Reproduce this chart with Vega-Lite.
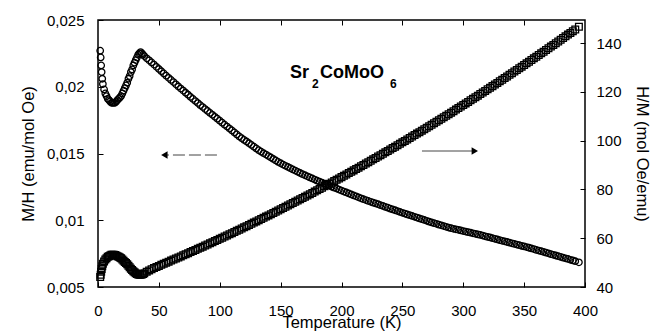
{
  "$schema": "https://vega.github.io/schema/vega-lite/v6.json",
  "width": 487,
  "height": 267,
  "autosize": "none",
  "padding": {"left": 98, "top": 20, "right": 67, "bottom": 44},
  "background": "white",
  "config": {
    "font": "Liberation Sans",
    "view": {"stroke": "black", "strokeWidth": 1.5},
    "axis": {
      "labelFont": "Liberation Sans", "titleFont": "Liberation Sans",
      "labelFontSize": 15, "titleFontSize": 16.5, "titleFontWeight": "normal",
      "labelColor": "black", "titleColor": "black", "tickColor": "black",
      "domain": false, "grid": false, "tickSize": 5, "tickWidth": 1, "offset": -5
    }
  },
  "datasets": {
    "mh": [
      {"T": 1.8, "v": 0.0227}, {"T": 2.2, "v": 0.0222}, {"T": 2.6, "v": 0.0216}, {"T": 3.0, "v": 0.0211},
      {"T": 3.5, "v": 0.0206}, {"T": 4, "v": 0.0202}, {"T": 5, "v": 0.0198}, {"T": 6, "v": 0.0195},
      {"T": 7, "v": 0.0193}, {"T": 8, "v": 0.0191}, {"T": 9, "v": 0.0190}, {"T": 10, "v": 0.0189},
      {"T": 11, "v": 0.0188}, {"T": 12, "v": 0.0188}, {"T": 13, "v": 0.0188}, {"T": 14, "v": 0.0188},
      {"T": 15, "v": 0.0189}, {"T": 16, "v": 0.0190}, {"T": 17, "v": 0.0191}, {"T": 18, "v": 0.0192},
      {"T": 19, "v": 0.0193}, {"T": 20, "v": 0.0195}, {"T": 21, "v": 0.0197}, {"T": 22, "v": 0.0199},
      {"T": 23, "v": 0.0201}, {"T": 24, "v": 0.0203}, {"T": 25, "v": 0.0206}, {"T": 26, "v": 0.0208},
      {"T": 27, "v": 0.0211}, {"T": 28, "v": 0.0213}, {"T": 29, "v": 0.0216}, {"T": 30, "v": 0.0218},
      {"T": 31, "v": 0.0220}, {"T": 32, "v": 0.0222}, {"T": 33, "v": 0.0224}, {"T": 34, "v": 0.0225},
      {"T": 35, "v": 0.0226}, {"T": 36, "v": 0.0225}, {"T": 37, "v": 0.0224}, {"T": 38, "v": 0.0223},
      {"T": 40, "v": 0.02213}, {"T": 44, "v": 0.02182}, {"T": 48, "v": 0.02149}, {"T": 52, "v": 0.02116},
      {"T": 56, "v": 0.02083}, {"T": 60, "v": 0.02051}, {"T": 64, "v": 0.02018}, {"T": 68, "v": 0.01986},
      {"T": 72, "v": 0.01955}, {"T": 76, "v": 0.01924}, {"T": 80, "v": 0.01893}, {"T": 84, "v": 0.01862},
      {"T": 88, "v": 0.01833}, {"T": 92, "v": 0.01804}, {"T": 96, "v": 0.01775}, {"T": 100, "v": 0.01746},
      {"T": 104, "v": 0.01716}, {"T": 108, "v": 0.01687}, {"T": 112, "v": 0.01658}, {"T": 116, "v": 0.01628},
      {"T": 120, "v": 0.01602}, {"T": 124, "v": 0.01577}, {"T": 128, "v": 0.01551}, {"T": 132, "v": 0.01525},
      {"T": 136, "v": 0.01502}, {"T": 140, "v": 0.01481}, {"T": 144, "v": 0.01459}, {"T": 148, "v": 0.01437},
      {"T": 152, "v": 0.01417}, {"T": 156, "v": 0.01399}, {"T": 160, "v": 0.01381}, {"T": 164, "v": 0.01363},
      {"T": 168, "v": 0.01345}, {"T": 172, "v": 0.01329}, {"T": 176, "v": 0.01313}, {"T": 180, "v": 0.01296},
      {"T": 184, "v": 0.01281}, {"T": 188, "v": 0.01266}, {"T": 192, "v": 0.01251}, {"T": 196, "v": 0.01237},
      {"T": 200, "v": 0.01222}, {"T": 204, "v": 0.01208}, {"T": 208, "v": 0.01193}, {"T": 212, "v": 0.01179},
      {"T": 216, "v": 0.01164}, {"T": 220, "v": 0.01151}, {"T": 224, "v": 0.01138}, {"T": 228, "v": 0.01126},
      {"T": 232, "v": 0.01113}, {"T": 236, "v": 0.01100}, {"T": 240, "v": 0.01087}, {"T": 244, "v": 0.01075},
      {"T": 248, "v": 0.01062}, {"T": 252, "v": 0.01050}, {"T": 256, "v": 0.01038}, {"T": 260, "v": 0.01026},
      {"T": 264, "v": 0.01014}, {"T": 268, "v": 0.01002}, {"T": 272, "v": 0.00989}, {"T": 276, "v": 0.00978},
      {"T": 280, "v": 0.00967}, {"T": 284, "v": 0.00956}, {"T": 288, "v": 0.00945}, {"T": 292, "v": 0.00936},
      {"T": 296, "v": 0.00928}, {"T": 300, "v": 0.00919}, {"T": 304, "v": 0.00911}, {"T": 308, "v": 0.00902},
      {"T": 312, "v": 0.00894}, {"T": 316, "v": 0.00885}, {"T": 320, "v": 0.00875}, {"T": 324, "v": 0.00866},
      {"T": 328, "v": 0.00856}, {"T": 332, "v": 0.00846}, {"T": 336, "v": 0.00837}, {"T": 340, "v": 0.00827},
      {"T": 344, "v": 0.00818}, {"T": 348, "v": 0.00808}, {"T": 352, "v": 0.00799}, {"T": 356, "v": 0.00789},
      {"T": 360, "v": 0.00778}, {"T": 364, "v": 0.00768}, {"T": 368, "v": 0.00757}, {"T": 372, "v": 0.00746},
      {"T": 376, "v": 0.00736}, {"T": 380, "v": 0.00725}, {"T": 384, "v": 0.00715}, {"T": 388, "v": 0.00704},
      {"T": 392, "v": 0.00693}, {"T": 395, "v": 0.00685},
      {"T": 42, "v": 0.02198}, {"T": 46, "v": 0.02166}, {"T": 50, "v": 0.02133}, {"T": 54, "v": 0.02100},
      {"T": 58, "v": 0.02067}, {"T": 62, "v": 0.02035}, {"T": 66, "v": 0.02002}, {"T": 70, "v": 0.01971},
      {"T": 74, "v": 0.01940}, {"T": 78, "v": 0.01909}, {"T": 82, "v": 0.01878}, {"T": 86, "v": 0.01848},
      {"T": 90, "v": 0.01819}, {"T": 94, "v": 0.01790}, {"T": 98, "v": 0.01761}, {"T": 102, "v": 0.01731},
      {"T": 106, "v": 0.01702}, {"T": 110, "v": 0.01673}, {"T": 114, "v": 0.01643}, {"T": 118, "v": 0.01615},
      {"T": 122, "v": 0.01590}, {"T": 126, "v": 0.01564}, {"T": 130, "v": 0.01538}, {"T": 134, "v": 0.01514},
      {"T": 138, "v": 0.01492}, {"T": 142, "v": 0.01470}, {"T": 146, "v": 0.01448}, {"T": 150, "v": 0.01427},
      {"T": 154, "v": 0.01408}, {"T": 158, "v": 0.01390}, {"T": 162, "v": 0.01372}, {"T": 166, "v": 0.01354},
      {"T": 170, "v": 0.01337}, {"T": 174, "v": 0.01321}, {"T": 178, "v": 0.01305}, {"T": 182, "v": 0.01289},
      {"T": 186, "v": 0.01274}, {"T": 190, "v": 0.01259}, {"T": 194, "v": 0.01244}, {"T": 198, "v": 0.01230},
      {"T": 202, "v": 0.01215}, {"T": 206, "v": 0.01201}, {"T": 210, "v": 0.01186}, {"T": 214, "v": 0.01172},
      {"T": 218, "v": 0.01158}, {"T": 222, "v": 0.01145}, {"T": 226, "v": 0.01132}, {"T": 230, "v": 0.01120},
      {"T": 234, "v": 0.01107}, {"T": 238, "v": 0.01094}, {"T": 242, "v": 0.01081}, {"T": 246, "v": 0.01069},
      {"T": 250, "v": 0.01056}, {"T": 254, "v": 0.01044}, {"T": 258, "v": 0.01032}, {"T": 262, "v": 0.01020},
      {"T": 266, "v": 0.01008}, {"T": 270, "v": 0.00996}, {"T": 274, "v": 0.00984}, {"T": 278, "v": 0.00973},
      {"T": 282, "v": 0.00962}, {"T": 286, "v": 0.00951}, {"T": 290, "v": 0.00941}, {"T": 294, "v": 0.00932},
      {"T": 298, "v": 0.00924}, {"T": 302, "v": 0.00915}, {"T": 306, "v": 0.00907}, {"T": 310, "v": 0.00898},
      {"T": 314, "v": 0.00890}, {"T": 318, "v": 0.00880}, {"T": 322, "v": 0.00871}, {"T": 326, "v": 0.00861},
      {"T": 330, "v": 0.00851}, {"T": 334, "v": 0.00842}, {"T": 338, "v": 0.00832}, {"T": 342, "v": 0.00823},
      {"T": 346, "v": 0.00813}, {"T": 350, "v": 0.00804}, {"T": 354, "v": 0.00794}, {"T": 358, "v": 0.00784},
      {"T": 362, "v": 0.00773}, {"T": 366, "v": 0.00763}, {"T": 370, "v": 0.00752}, {"T": 374, "v": 0.00741},
      {"T": 378, "v": 0.00731}, {"T": 382, "v": 0.00720}, {"T": 386, "v": 0.00710}, {"T": 390, "v": 0.00699}
    ],
    "hm": [
      {"T": 1.8, "v": 44.1}, {"T": 2.2, "v": 45.0}, {"T": 2.6, "v": 46.3}, {"T": 3.0, "v": 47.4},
      {"T": 3.5, "v": 48.5}, {"T": 4, "v": 49.5}, {"T": 5, "v": 50.5}, {"T": 6, "v": 51.3},
      {"T": 7, "v": 51.8}, {"T": 8, "v": 52.4}, {"T": 9, "v": 52.6}, {"T": 10, "v": 52.9},
      {"T": 11, "v": 53.2}, {"T": 12, "v": 53.2}, {"T": 13, "v": 53.2}, {"T": 14, "v": 53.1},
      {"T": 15, "v": 52.9}, {"T": 16, "v": 52.6}, {"T": 17, "v": 52.4}, {"T": 18, "v": 52.1},
      {"T": 19, "v": 51.8}, {"T": 20, "v": 51.3}, {"T": 21, "v": 50.8}, {"T": 22, "v": 50.3},
      {"T": 23, "v": 49.8}, {"T": 24, "v": 49.3}, {"T": 25, "v": 48.7}, {"T": 26, "v": 48.1},
      {"T": 27, "v": 47.5}, {"T": 28, "v": 47.0}, {"T": 29, "v": 46.5}, {"T": 30, "v": 46.0},
      {"T": 31, "v": 45.6}, {"T": 32, "v": 45.3}, {"T": 33, "v": 45.1}, {"T": 34, "v": 45.0},
      {"T": 35, "v": 45.0}, {"T": 36, "v": 45.1}, {"T": 37, "v": 45.3}, {"T": 38, "v": 45.6},
      {"T": 40, "v": 46.3}, {"T": 44, "v": 47.3}, {"T": 48, "v": 48.2}, {"T": 52, "v": 49.12},
      {"T": 56, "v": 49.97}, {"T": 60, "v": 50.82}, {"T": 64, "v": 51.68}, {"T": 68, "v": 52.55},
      {"T": 72, "v": 53.43}, {"T": 76, "v": 54.31}, {"T": 80, "v": 55.2}, {"T": 84, "v": 56.1},
      {"T": 88, "v": 57.0}, {"T": 92, "v": 57.91}, {"T": 96, "v": 58.83}, {"T": 100, "v": 59.75},
      {"T": 104, "v": 60.68}, {"T": 108, "v": 61.62}, {"T": 112, "v": 62.56}, {"T": 116, "v": 63.51},
      {"T": 120, "v": 64.47}, {"T": 124, "v": 65.44}, {"T": 128, "v": 66.41}, {"T": 132, "v": 67.39},
      {"T": 136, "v": 68.37}, {"T": 140, "v": 69.36}, {"T": 144, "v": 70.36}, {"T": 148, "v": 71.37},
      {"T": 152, "v": 72.38}, {"T": 156, "v": 73.4}, {"T": 160, "v": 74.43}, {"T": 164, "v": 75.46},
      {"T": 168, "v": 76.5}, {"T": 172, "v": 77.55}, {"T": 176, "v": 78.6}, {"T": 180, "v": 79.66},
      {"T": 184, "v": 80.73}, {"T": 188, "v": 81.8}, {"T": 192, "v": 82.88}, {"T": 196, "v": 83.97},
      {"T": 200, "v": 85.06}, {"T": 204, "v": 86.17}, {"T": 208, "v": 87.27}, {"T": 212, "v": 88.39},
      {"T": 216, "v": 89.51}, {"T": 220, "v": 90.64}, {"T": 224, "v": 91.77}, {"T": 228, "v": 92.92},
      {"T": 232, "v": 94.07}, {"T": 236, "v": 95.22}, {"T": 240, "v": 96.38}, {"T": 244, "v": 97.55},
      {"T": 248, "v": 98.73}, {"T": 252, "v": 99.91}, {"T": 256, "v": 101.1}, {"T": 260, "v": 102.3},
      {"T": 264, "v": 103.51}, {"T": 268, "v": 104.72}, {"T": 272, "v": 105.93}, {"T": 276, "v": 107.16},
      {"T": 280, "v": 108.39}, {"T": 284, "v": 109.63}, {"T": 288, "v": 110.87}, {"T": 292, "v": 112.12},
      {"T": 296, "v": 113.38}, {"T": 300, "v": 114.65}, {"T": 304, "v": 115.92}, {"T": 308, "v": 117.2},
      {"T": 312, "v": 118.48}, {"T": 316, "v": 119.78}, {"T": 320, "v": 121.08}, {"T": 324, "v": 122.38},
      {"T": 328, "v": 123.7}, {"T": 332, "v": 125.02}, {"T": 336, "v": 126.34}, {"T": 340, "v": 127.68},
      {"T": 344, "v": 129.02}, {"T": 348, "v": 130.36}, {"T": 352, "v": 131.72}, {"T": 356, "v": 133.08},
      {"T": 360, "v": 134.45}, {"T": 364, "v": 135.82}, {"T": 368, "v": 137.2}, {"T": 372, "v": 138.59},
      {"T": 376, "v": 139.99}, {"T": 380, "v": 141.39}, {"T": 384, "v": 142.8}, {"T": 388, "v": 144.21},
      {"T": 392, "v": 145.63}, {"T": 395, "v": 146.7},
      {"T": 42, "v": 46.8}, {"T": 46, "v": 47.75}, {"T": 50, "v": 48.66}, {"T": 54, "v": 49.55},
      {"T": 58, "v": 50.4}, {"T": 62, "v": 51.25}, {"T": 66, "v": 52.12}, {"T": 70, "v": 52.99},
      {"T": 74, "v": 53.87}, {"T": 78, "v": 54.76}, {"T": 82, "v": 55.65}, {"T": 86, "v": 56.55},
      {"T": 90, "v": 57.46}, {"T": 94, "v": 58.37}, {"T": 98, "v": 59.29}, {"T": 102, "v": 60.22},
      {"T": 106, "v": 61.15}, {"T": 110, "v": 62.09}, {"T": 114, "v": 63.04}, {"T": 118, "v": 63.99},
      {"T": 122, "v": 64.96}, {"T": 126, "v": 65.93}, {"T": 130, "v": 66.9}, {"T": 134, "v": 67.88},
      {"T": 138, "v": 68.87}, {"T": 142, "v": 69.86}, {"T": 146, "v": 70.87}, {"T": 150, "v": 71.88},
      {"T": 154, "v": 72.89}, {"T": 158, "v": 73.92}, {"T": 162, "v": 74.95}, {"T": 166, "v": 75.98},
      {"T": 170, "v": 77.03}, {"T": 174, "v": 78.08}, {"T": 178, "v": 79.13}, {"T": 182, "v": 80.2},
      {"T": 186, "v": 81.27}, {"T": 190, "v": 82.34}, {"T": 194, "v": 83.43}, {"T": 198, "v": 84.52},
      {"T": 202, "v": 85.62}, {"T": 206, "v": 86.72}, {"T": 210, "v": 87.83}, {"T": 214, "v": 88.95},
      {"T": 218, "v": 90.08}, {"T": 222, "v": 91.21}, {"T": 226, "v": 92.35}, {"T": 230, "v": 93.5},
      {"T": 234, "v": 94.65}, {"T": 238, "v": 95.8}, {"T": 242, "v": 96.97}, {"T": 246, "v": 98.14},
      {"T": 250, "v": 99.32}, {"T": 254, "v": 100.51}, {"T": 258, "v": 101.7}, {"T": 262, "v": 102.91},
      {"T": 266, "v": 104.12}, {"T": 270, "v": 105.33}, {"T": 274, "v": 106.55}, {"T": 278, "v": 107.78},
      {"T": 282, "v": 109.01}, {"T": 286, "v": 110.25}, {"T": 290, "v": 111.5}, {"T": 294, "v": 112.75},
      {"T": 298, "v": 114.02}, {"T": 302, "v": 115.29}, {"T": 306, "v": 116.56}, {"T": 310, "v": 117.84},
      {"T": 314, "v": 119.13}, {"T": 318, "v": 120.43}, {"T": 322, "v": 121.73}, {"T": 326, "v": 123.04},
      {"T": 330, "v": 124.36}, {"T": 334, "v": 125.68}, {"T": 338, "v": 127.01}, {"T": 342, "v": 128.35},
      {"T": 346, "v": 129.69}, {"T": 350, "v": 131.04}, {"T": 354, "v": 132.4}, {"T": 358, "v": 133.77},
      {"T": 362, "v": 135.14}, {"T": 366, "v": 136.51}, {"T": 370, "v": 137.9}, {"T": 374, "v": 139.29},
      {"T": 378, "v": 140.69}, {"T": 382, "v": 142.1}, {"T": 386, "v": 143.51}, {"T": 390, "v": 144.92}
    ],
    "arrows": [
      {"a": "left", "from": 97.7, "to": 56, "y": 0.014887},
      {"a": "right", "from": 266.1, "to": 307.5, "y": 0.015187}
    ],
    "heads": [
      {"a": "left", "x": 54.5, "y": 0.014887},
      {"a": "right", "x": 309.5, "y": 0.015187}
    ],
    "formula": [
      {"t": "Sr", "x": 157.7, "y": 0.020655, "part": "main"},
      {"t": "2", "x": 175.8, "y": 0.019906, "part": "sub"},
      {"t": "CoMoO", "x": 182.3, "y": 0.020655, "part": "main"},
      {"t": "6", "x": 239.8, "y": 0.019906, "part": "sub"}
    ]
  },
  "layer": [
    {
      "data": {"name": "mh"},
      "mark": {"type": "point", "shape": "circle", "filled": false, "stroke": "black", "strokeWidth": 1.3, "size": 42, "opacity": 1},
      "encoding": {
        "x": {"field": "T", "type": "quantitative", "scale": {"domain": [0, 400], "nice": false},
              "axis": {"orient": "bottom", "title": "Temperature (K)", "values": [0, 50, 100, 150, 200, 250, 300, 350, 400],
                       "labelPadding": 16, "titlePadding": -4, "labelFlush": false}},
        "y": {"field": "v", "type": "quantitative", "scale": {"domain": [0.005, 0.025], "nice": false, "zero": false},
              "axis": {"orient": "left", "title": "M/H (emu/mol Oe)", "values": [0.005, 0.01, 0.015, 0.02, 0.025],
                       "format": ".3~f", "labelExpr": "replace(datum.label, '.', ',')",
                       "labelPadding": 14, "titlePadding": 10, "labelFlush": false}}
      }
    },
    {
      "data": {"name": "arrows"},
      "mark": {"type": "rule", "stroke": "#444444", "strokeWidth": 1},
      "encoding": {
        "x": {"field": "from", "type": "quantitative", "scale": {"domain": [0, 400], "nice": false}, "axis": null},
        "x2": {"field": "to"},
        "y": {"field": "y", "type": "quantitative", "scale": {"domain": [0.005, 0.025], "nice": false, "zero": false}, "axis": null},
        "strokeDash": {"field": "a", "type": "nominal", "scale": {"domain": ["left", "right"], "range": [[12, 4], [1, 0]]}, "legend": null}
      }
    },
    {
      "data": {"name": "heads"},
      "mark": {"type": "point", "filled": true, "color": "black", "opacity": 1, "size": 55},
      "encoding": {
        "x": {"field": "x", "type": "quantitative", "scale": {"domain": [0, 400], "nice": false}, "axis": null},
        "y": {"field": "y", "type": "quantitative", "scale": {"domain": [0.005, 0.025], "nice": false, "zero": false}, "axis": null},
        "shape": {"field": "a", "type": "nominal", "scale": {"domain": ["left", "right"], "range": ["triangle-left", "triangle-right"]}, "legend": null}
      }
    },
    {
      "data": {"name": "formula"},
      "mark": {"type": "text", "align": "left", "baseline": "alphabetic", "fontWeight": "bold", "font": "Liberation Sans", "color": "black"},
      "encoding": {
        "x": {"field": "x", "type": "quantitative", "scale": {"domain": [0, 400], "nice": false}, "axis": null},
        "y": {"field": "y", "type": "quantitative", "scale": {"domain": [0.005, 0.025], "nice": false, "zero": false}, "axis": null},
        "text": {"field": "t"},
        "size": {"field": "part", "type": "nominal", "scale": {"domain": ["main", "sub"], "range": [18, 12]}, "legend": null}
      }
    },
    {
      "data": {"name": "hm"},
      "mark": {"type": "point", "shape": "square", "filled": false, "stroke": "black", "strokeWidth": 1.3, "size": 45, "opacity": 1},
      "encoding": {
        "x": {"field": "T", "type": "quantitative", "scale": {"domain": [0, 400], "nice": false},
              "axis": {"orient": "top", "labels": false, "title": null, "values": [50, 100, 150, 200, 250, 300, 350]}},
        "y": {"field": "v", "type": "quantitative", "scale": {"domain": [40, 149.5], "nice": false, "zero": false},
              "axis": {"orient": "right", "title": "H/M (mol Oe/emu)", "values": [40, 60, 80, 100, 120, 140],
                       "labelPadding": 11, "titlePadding": 12, "labelFlush": false}}
      }
    }
  ],
  "resolve": {"scale": {"y": "independent"}, "axis": {"x": "independent", "y": "independent"}}
}
